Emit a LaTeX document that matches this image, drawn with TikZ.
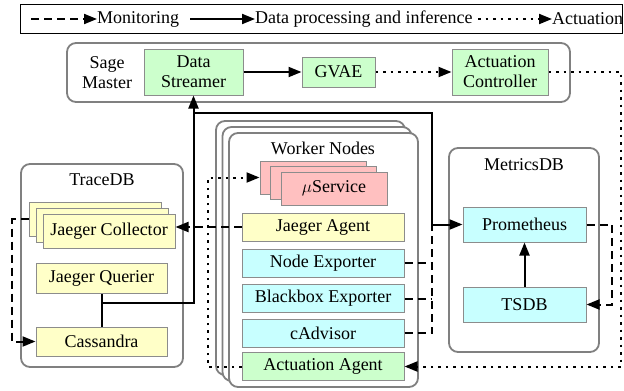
\documentclass[tikz,border=0pt]{standalone}
\usepackage{fontspec}
\setmainfont{Liberation Serif}
\newfontfamily\tnrfont{Liberation Serif}
\usetikzlibrary{arrows.meta}
\definecolor{bgreen}{RGB}{204,255,204}
\definecolor{byellow}{RGB}{255,255,200}
\definecolor{bcyan}{RGB}{200,255,255}
\definecolor{bpink}{RGB}{255,192,192}
\definecolor{bordgray}{RGB}{140,140,140}
\definecolor{contgray}{RGB}{128,128,128}
\begin{document}
\begin{tikzpicture}[x=1pt,y=-1pt,
  font=\tnrfont\fontsize{18}{20}\selectfont,
  comp/.style={draw=bordgray, line width=1pt, inner sep=0pt, align=center},
  cont/.style={draw=contgray, line width=1.8pt, rounded corners=9pt, fill=white, inner sep=0pt},
  tip/.style={-{Triangle[length=13pt,width=10pt]}},
  data/.style={line width=2pt, black},
  mon/.style={line width=2pt, black, dash pattern=on 8pt off 5pt},
  act/.style={line width=2pt, black, dash pattern=on 2.5pt off 5pt},
  lbl/.style={inner sep=0pt}
]
\useasboundingbox (0,0) rectangle (624,391);

% legend
\node[draw=black, line width=1pt, minimum width=602pt, minimum height=29pt, inner sep=0pt] (legend) at (321,18.5) {};
\coordinate (lmon) at (31,19);
\coordinate (ldata) at (190,19);
\coordinate (lact) at (478,19);
\node[lbl, anchor=west] (tmon) at (97,19) {Monitoring};
\node[lbl, anchor=west] (tdata) at (255,19) {Data processing and inference};
\node[lbl, anchor=west] (tact) at (552,19) {Actuation};
\draw[mon,tip] (lmon) -- (tmon.west);
\draw[data,tip] (ldata) -- (tdata.west);
\draw[act,tip] (lact) -- (tact.west);

% Sage master
\node[cont, minimum width=503pt, minimum height=59pt] (sage) at (318.5,72.5) {};
\node[lbl, align=center] (sagelbl) at (107,73) {Sage\\Master};
\node[comp, fill=bgreen, minimum width=99pt, minimum height=46pt] (ds) at (193.5,72) {Data\\Streamer};
\node[comp, fill=bgreen, minimum width=73pt, minimum height=30pt] (gvae) at (338.5,72) {GVAE};
\node[comp, fill=bgreen, minimum width=96pt, minimum height=46pt] (ac) at (500,72) {Actuation\\Controller};

% TraceDB
\node[cont, minimum width=162pt, minimum height=203pt] (trace) at (102,265.5) {};
\node[lbl] (tracelbl) at (102,180) {TraceDB};
\node[comp, fill=byellow, minimum width=132pt, minimum height=34pt] (jc3) at (95,219) {};
\node[comp, fill=byellow, minimum width=132pt, minimum height=34pt] (jc2) at (102,225) {};
\node[comp, fill=byellow, minimum width=132pt, minimum height=34pt] (jc1) at (109,231) {Jaeger Collector};
\node[comp, fill=byellow, minimum width=131pt, minimum height=30pt] (jq) at (101.5,278) {Jaeger Querier};
\node[comp, fill=byellow, minimum width=131pt, minimum height=29pt] (cas) at (101.5,341.5) {Cassandra};

% Worker nodes
\node[cont, minimum width=189pt, minimum height=254pt] (w3) at (310.5,248) {};
\node[cont, minimum width=189pt, minimum height=254pt] (w2) at (317,254) {};
\node[cont, minimum width=189pt, minimum height=254pt] (w1) at (323.5,260) {};
\node[lbl] (worklbl) at (323,148) {Worker Nodes};
\node[comp, fill=bpink, minimum width=106pt, minimum height=33pt] (ms3) at (313,177.5) {};
\node[comp, fill=bpink, minimum width=106pt, minimum height=33pt] (ms2) at (323.5,183) {};
\node[comp, fill=bpink, minimum width=106pt, minimum height=33pt] (ms1) at (334,188.5) {$\mu$Service};
\node[comp, fill=byellow, minimum width=162pt, minimum height=28pt] (ja) at (323,227) {Jaeger Agent};
\node[comp, fill=bcyan, minimum width=162pt, minimum height=28pt] (ne) at (323,263) {Node Exporter};
\node[comp, fill=bcyan, minimum width=162pt, minimum height=28pt] (be) at (323,298.5) {Blackbox Exporter};
\node[comp, fill=bcyan, minimum width=162pt, minimum height=28pt] (ca) at (323,333) {cAdvisor};
\node[comp, fill=bgreen, minimum width=162pt, minimum height=28pt] (aa) at (323,366.5) {Actuation Agent};

% MetricsDB
\node[cont, minimum width=150pt, minimum height=204pt] (metrics) at (524,250) {};
\node[lbl] (metlbl) at (524,165) {MetricsDB};
\node[comp, fill=bcyan, minimum width=123pt, minimum height=35pt] (prom) at (524.5,224.5) {Prometheus};
\node[comp, fill=bcyan, minimum width=123pt, minimum height=35pt] (tsdb) at (524.5,304.5) {TSDB};

% helper coordinates
\coordinate (rx) at (621,0);
\coordinate (lx) at (208,0);
\coordinate (bx) at (432,0);
\coordinate (tx) at (12,0);
\coordinate (px) at (612,0);
\coordinate (j1) at (101.5,303);
\coordinate (j2) at (193.5,113);

% connectors
\draw[data,tip] (ds) -- (gvae);
\draw[act,tip] (gvae) -- (ac);
\draw[act,tip] (ac.east) -- (ac.east -| rx) -- (rx |- aa.east) -- (aa.east);
\draw[act,tip] (aa.west) -- (aa.west -| lx) -- (lx |- ms3.west) -- (ms3.west);
\draw[mon,tip] (ja.west) -- (ja.west -| jc1.east);
\draw[mon,tip] (jc3.west) -- (jc3.west -| tx) -- (tx |- cas.west) -- (cas.west);
\draw[data] (cas.north) -- (jq.south);
\draw[data,tip] (j1) -- (j1 -| ds.south) -- (ds.south);
\draw[data,tip] (j2) -- (j2 -| bx) -- (bx |- prom.west) -- (prom.west);
\draw[mon] (ne.east) -- (ne.east -| bx);
\draw[mon] (be.east) -- (be.east -| bx);
\draw[mon] (ca.east) -- (ca.east -| bx) -- ([yshift=3pt]bx |- prom.west);
\draw[data,tip] (tsdb.north) -- (prom.south);
\draw[mon,tip] (prom.east) -- (prom.east -| px) -- (px |- tsdb.east) -- (tsdb.east);
\end{tikzpicture}
\end{document}
